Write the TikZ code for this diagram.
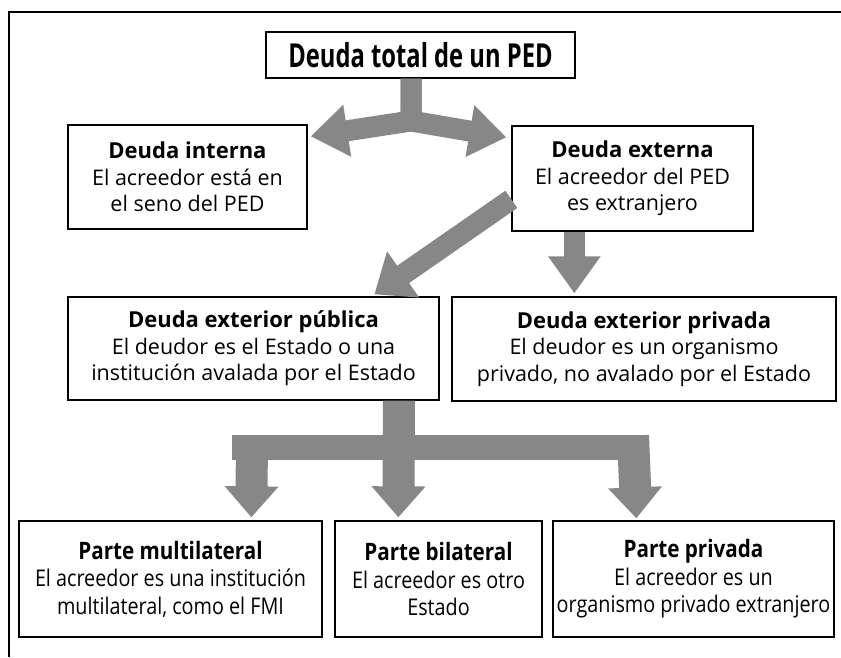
\documentclass[tikz,border=0pt]{standalone}
\usepackage{fontspec}
\setmainfont{Open Sans}
\newfontfamily\condfont[FakeStretch=0.86]{Open Sans}
\newfontfamily\titlefont[FakeStretch=0.72]{Open Sans}
\usetikzlibrary{arrows.meta,calc}
\definecolor{arrowgray}{RGB}{135,135,135}
\tikzset{
  box/.style={draw=black, line width=1.3pt, inner sep=0pt, align=center,
    font=\fontsize{21.5}{26.5}\selectfont},
  bbox/.style={draw=black, line width=1.3pt, inner sep=0pt, align=center,
    font=\condfont\fontsize{23}{27.5}\selectfont},
  fatA/.style={draw=arrowgray, line width=21pt, line join=miter,
    -{Triangle[width=50pt,length=37pt]}},
  fatD/.style={draw=arrowgray, line width=21pt, line join=miter,
    -{Triangle[width=54pt,length=35pt]}},
  forkA/.style={draw=arrowgray, line width=32pt, line join=miter,
    -{Triangle[width=52pt,length=31pt]}},
  barline/.style={draw=arrowgray, line width=25pt},
  frameline/.style={draw=black, line width=1.8pt}
}
\begin{document}
\begin{tikzpicture}[x=1pt,y=-1pt]
\useasboundingbox (0,0) rectangle (841,657);
% frame
\coordinate (fr1) at (841,12);
\coordinate (fr2) at (9,12);
\coordinate (fr3) at (9,657);
\draw[frameline] (fr1) -- (fr2) -- (fr3);

% nodes
\node[draw=black, line width=1.3pt, inner sep=0pt, minimum width=309pt, minimum height=46pt,
  font=\titlefont\bfseries\fontsize{33}{36}\selectfont] (top) at (420.5,55) {Deuda total de un PED};
\node[box, minimum width=239pt, minimum height=104pt] (interna) at (187.5,177)
  {{\bfseries\fontsize{22}{26.5}\selectfont Deuda interna}\\El acreedor está en\\el seno del PED};
\node[box, minimum width=241pt, minimum height=105pt] (externa) at (632.5,178.5)
  {{\bfseries\fontsize{22}{26.5}\selectfont Deuda externa}\\El acreedor del PED\\es extranjero};
\node[box, minimum width=371pt, minimum height=103pt] (publica) at (253.5,348.5)
  {{\bfseries\fontsize{22}{26.5}\selectfont Deuda exterior pública}\\El deudor es el Estado o una\\institución avalada por el Estado};
\node[box, minimum width=384pt, minimum height=104pt] (privada) at (644,349)
  {{\bfseries\fontsize{22}{26.5}\selectfont Deuda exterior privada}\\El deudor es un organismo\\privado, no avalado por el Estado};
\node[bbox, minimum width=303pt, minimum height=116pt] (multi) at (170.5,579)
  {{\bfseries\fontsize{24}{27.5}\selectfont Parte multilateral}\\El acreedor es una institución\\multilateral, como el FMI};
\node[bbox, minimum width=207pt, minimum height=116pt] (bilat) at (438.5,579)
  {{\bfseries\fontsize{24}{27.5}\selectfont Parte bilateral}\\El acreedor es otro\\Estado};
\node[bbox, minimum width=281pt, minimum height=116pt] (ppart) at (693.5,579)
  {{\bfseries\fontsize{24}{27.5}\selectfont Parte privada}\\El acreedor es un\\organismo privado extranjero};

% top double arrow
\coordinate (tj) at (411,121);
\coordinate (tL) at ($(interna.north east)+(3,12)$);
\coordinate (tR) at ($(externa.north west)+(-5,12)$);
\draw[fatA] (top.south -| tj) -- (tj) -- (tL);
\draw[fatA] (top.south -| tj) -- (tj) -- (tR);

% diagonal arrow
\coordinate (dS) at ($(externa.north west)+(0,74)$);
\coordinate (dE) at ($(publica.north west)+(307,-2)$);
\draw[fatD] (dS) -- (dE);

% down arrow
\coordinate (vS) at ($(externa.south west)+(63,0)$);
\coordinate (vE) at ($(privada.north west)+(123,-3)$);
\draw[fatA] (vS) -- (vE);

% fork
\coordinate (fj) at (399,447.5);
\coordinate (fL) at (252,447.5);
\coordinate (fR) at (633,447.5);
\coordinate (bL) at (232,447.5);
\coordinate (bR) at (649,447.5);
\coordinate (tipL) at ($(multi.north west)+(233,-3)$);
\coordinate (tipM) at ($(bilat.north west)+(64,-3)$);
\coordinate (tipR) at ($(ppart.north west)+(84,-2)$);
\draw[barline] (bL) -- (bR);
\draw[forkA] ($(fL)+(0,-12)$) -- (tipL);
\draw[forkA] ($(fR)+(0,-12)$) -- (tipR);
\draw[forkA] (publica.south -| fj) -- (tipM);
\end{tikzpicture}
\end{document}
